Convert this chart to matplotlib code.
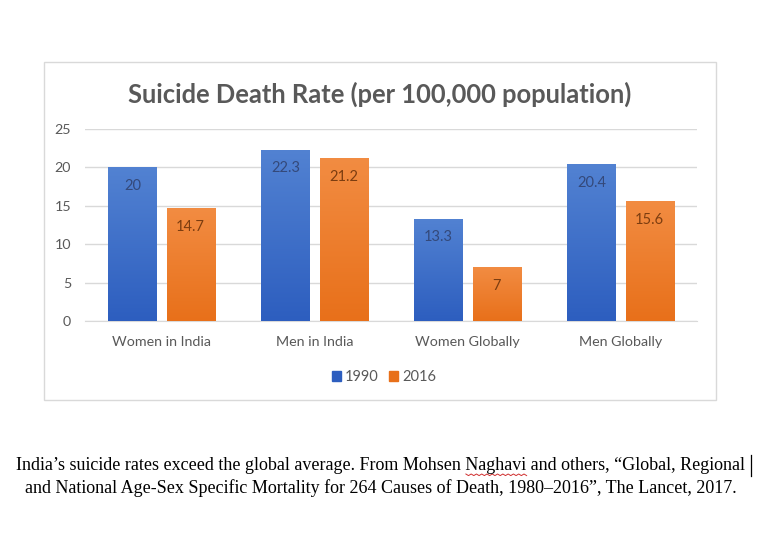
import matplotlib.pyplot as plt
import matplotlib.patches as mpatches
import matplotlib.lines as mlines
import numpy as np
from matplotlib.colors import LinearSegmentedColormap

categories = ['Women in India', 'Men in India', 'Women Globally', 'Men Globally']
rate_1990 = [20, 22.3, 13.3, 20.4]
rate_2016 = [14.7, 21.2, 7, 15.6]
series_names = ['1990', '2016']
yticks = [0, 5, 10, 15, 20, 25]

title = 'Suicide Death Rate (per 100,000 population)'
caption1 = 'India\u2019s suicide rates exceed the global average. From Mohsen Naghavi and others, \u201cGlobal, Regional'
caption2 = 'and National Age-Sex Specific Mortality for 264 Causes of Death, 1980\u20132016\u201d, The Lancet, 2017.'

blue_top, blue_bot = '#5282d2', '#2d5ebf'
orange_top, orange_bot = '#f28c42', '#e8701a'
gray = '#595959'

fig = plt.figure(figsize=(7.68, 5.49), dpi=100)
fig.patch.set_facecolor('white')

# chart frame
frame = mpatches.Rectangle((44/768, 1-400/549), (716-44)/768, (400-62)/549,
                           transform=fig.transFigure, fill=False,
                           edgecolor='#d9d9d9', linewidth=1.0)
fig.patches.append(frame)

ax = fig.add_axes([85/768, 1-321/549, 612/768, 192/549])
x = np.arange(len(categories))
w = 0.314
off = 0.19

def gradient_bars(xs, vals, top, bot):
    cmap = LinearSegmentedColormap.from_list('g', [bot, top])
    grad = np.linspace(0, 1, 256).reshape(-1, 1)
    bars = ax.bar(xs, vals, width=w, color=bot, zorder=2)
    for b in bars:
        x0, y0 = b.get_x(), b.get_y()
        im = ax.imshow(grad, cmap=cmap, origin='lower', aspect='auto',
                       extent=(x0, x0 + b.get_width(), y0, y0 + b.get_height()),
                       zorder=3)
        im.set_clip_path(b)
    return bars

b1 = gradient_bars(x - off, rate_1990, blue_top, blue_bot)
b2 = gradient_bars(x + off, rate_2016, orange_top, orange_bot)

for xi, v in zip(x - off, rate_1990):
    ax.text(xi, v - 1.5, f'{v:g}', ha='center', va='top', fontsize=10.5,
            color='#34497a', family='Lato', zorder=4)
for xi, v in zip(x + off, rate_2016):
    ax.text(xi, v - 1.5, f'{v:g}', ha='center', va='top', fontsize=10.5,
            color='#7c3d10', family='Lato', zorder=4)

ax.set_xlim(-0.5, len(categories) - 0.5)
ax.set_ylim(0, 25)
ax.set_yticks(yticks)
ax.set_xticks(x)
ax.set_xticklabels(categories)
ax.grid(axis='y', color='#d9d9d9', linewidth=1.0, zorder=0)
ax.set_axisbelow(True)
for s in ['top', 'right', 'left']:
    ax.spines[s].set_visible(False)
ax.spines['bottom'].set_color('#d9d9d9')
ax.tick_params(length=0, colors=gray, labelsize=10.3)
ax.tick_params(axis='x', pad=11)
ax.tick_params(axis='y', pad=10)
for lab in ax.get_xticklabels() + ax.get_yticklabels():
    lab.set_family('Lato')

handles = [mpatches.Patch(color=blue_bot), mpatches.Patch(color=orange_bot)]
fig.legend(handles, series_names, loc='center', bbox_to_anchor=(384/768, 1-377/549),
           ncol=2, frameon=False, handlelength=0.65, handleheight=0.7,
           handletextpad=0.25, columnspacing=0.7,
           prop={'family': 'Lato', 'size': 10.5}, labelcolor=gray)

fig.text(380/768, 1-94/549, title, ha='center', va='center', fontsize=18.4,
         fontweight='bold', color=gray, family='Lato')

cap_kw = dict(fontsize=13, color='black', family='Liberation Serif')
t1 = fig.text(381/768, 1-465/549, caption1, ha='center', va='center', **cap_kw)
fig.text(381/768, 1-488/549, caption2, ha='center', va='center', **cap_kw)

# word processor artefacts: spell-check squiggle under "Naghavi" and text cursor
renderer = fig.canvas.get_renderer()
line_box = t1.get_window_extent(renderer)
i = caption1.index('Naghavi')
def text_width(s):
    tmp = fig.text(0, 0, s, **cap_kw)
    wd = tmp.get_window_extent(renderer).width
    tmp.remove()
    return wd
sx0 = line_box.x0 + text_width(caption1[:i])
sx1 = line_box.x0 + text_width(caption1[:i + len('Naghavi')])
n = int((sx1 - sx0) / 2.5)
sq_x = np.linspace(sx0, sx1, n)
sq_y = (549 - 474) + np.where(np.arange(n) % 2 == 0, 0, -1.6)
fig.lines.append(mlines.Line2D(sq_x / 768, sq_y / 549, transform=fig.transFigure,
                               color='#d03030', linewidth=0.7))
cx = (line_box.x1 + 5) / 768
fig.lines.append(mlines.Line2D([cx, cx], [1-455/549, 1-476/549],
                               transform=fig.transFigure, color='black', linewidth=0.9))

fig.savefig('out.png', dpi=100)
